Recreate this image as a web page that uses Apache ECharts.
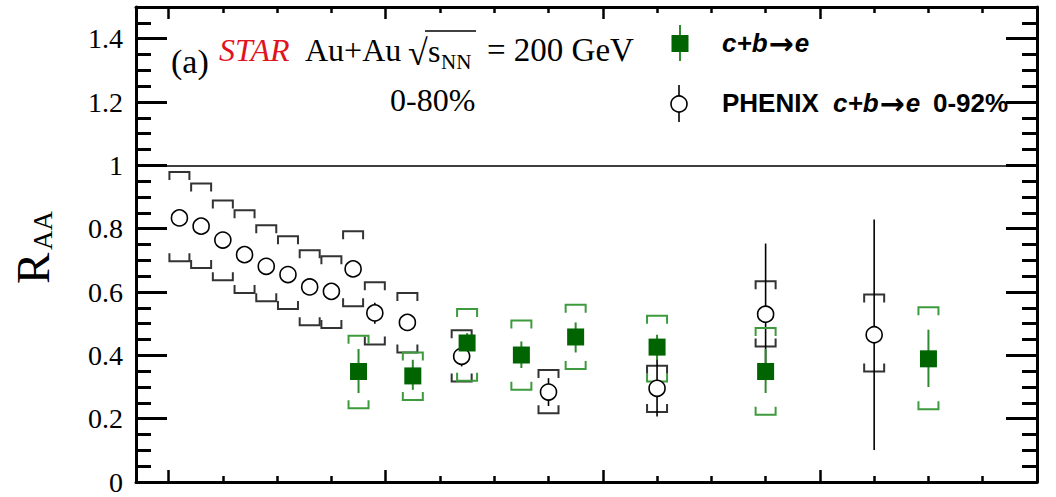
<!DOCTYPE html>
<html><head><meta charset="utf-8">
<script src="https://cdn.jsdelivr.net/npm/echarts@6/dist/echarts.min.js"></script>
<style>html,body{margin:0;padding:0;background:#fff}#c{width:1056px;height:497px}</style>
</head><body><div id="c"></div>
<script>
// ---- axes ----
const xMin = 1.7, xMax = 10, yMin = 0, yMax = 1.5;
const xMajorTicks = [2, 4, 6, 8];
const xMinorTicks = [2.5, 3, 3.5, 4.5, 5, 5.5, 6.5, 7, 7.5, 8.5, 9, 9.5];
const yMajorTicks = [0, 0.2, 0.4, 0.6, 0.8, 1, 1.2, 1.4];
const yTickLabels = ['0', '0.2', '0.4', '0.6', '0.8', '1', '1.2', '1.4'];
const yMinorTicks = [0.05, 0.1, 0.15, 0.25, 0.3, 0.35, 0.45, 0.5, 0.55, 0.65, 0.7, 0.75, 0.85, 0.9, 0.95, 1.05, 1.1, 1.15, 1.25, 1.3, 1.35, 1.45];
const refLine = 1;

// ---- PHENIX c+b->e 0-92% ----
const phenixX      = [2.1, 2.3, 2.5, 2.7, 2.9, 3.1, 3.3, 3.5, 3.7, 3.9, 4.2, 4.7, 5.5, 6.5, 7.5, 8.5];
const phenixY      = [0.834, 0.808, 0.764, 0.718, 0.681, 0.655, 0.616, 0.602, 0.673, 0.534, 0.504, 0.397, 0.284, 0.296, 0.530, 0.465];
const phenixStatLo = [0.824, 0.798, 0.754, 0.708, 0.671, 0.645, 0.606, 0.592, 0.663, 0.500, 0.494, 0.365, 0.240, 0.207, 0.350, 0.101];
const phenixStatHi = [0.844, 0.818, 0.774, 0.728, 0.691, 0.665, 0.626, 0.612, 0.683, 0.566, 0.514, 0.430, 0.328, 0.390, 0.753, 0.829];
const phenixSysLo  = [0.697, 0.676, 0.637, 0.597, 0.571, 0.546, 0.495, 0.486, 0.555, 0.434, 0.409, 0.317, 0.217, 0.221, 0.428, 0.349];
const phenixSysHi  = [0.979, 0.943, 0.889, 0.858, 0.811, 0.776, 0.732, 0.713, 0.792, 0.631, 0.597, 0.479, 0.354, 0.367, 0.634, 0.592];

// ---- STAR c+b->e 0-80% ----
const starX      = [3.75, 4.25, 4.75, 5.25, 5.75, 6.5, 7.5, 9];
const starY      = [0.349, 0.335, 0.439, 0.401, 0.458, 0.426, 0.349, 0.389];
const starStatLo = [0.281, 0.291, 0.405, 0.360, 0.409, 0.385, 0.281, 0.300];
const starStatHi = [0.420, 0.386, 0.470, 0.444, 0.504, 0.465, 0.420, 0.481];
const starSysLo  = [0.233, 0.259, 0.320, 0.291, 0.357, 0.317, 0.212, 0.230];
const starSysHi  = [0.462, 0.409, 0.546, 0.510, 0.560, 0.525, 0.486, 0.552];

const GREEN_FILL = '#006400', GREEN_LINE = '#2f8a2f', GREEN_BRACKET = '#3d9a3d';
const BLACK = '#000', BRACKET_BLACK = '#333';
const SERIF = '"Liberation Serif", "Times New Roman", serif';
const SANS = '"Liberation Sans", Arial, sans-serif';

function zip3(x, a, b) { return x.map((v, i) => [v, a[i], b[i]]); }
function zip2(x, a) { return x.map((v, i) => [v, a[i]]); }

function statItem(color, lw) {
  return function (params, api) {
    const x = api.value(0), lo = api.value(1), hi = api.value(2);
    const a = api.coord([x, lo]), b = api.coord([x, hi]);
    return { type: 'line', shape: { x1: a[0], y1: a[1], x2: b[0], y2: b[1] },
             style: { stroke: color, lineWidth: lw } };
  };
}
function sysItem(color) {
  return function (params, api) {
    const x = api.value(0), lo = api.value(1), hi = api.value(2);
    const a = api.coord([x, lo]), b = api.coord([x, hi]);
    const w = 10, t = 8;
    return { type: 'group', children: [
      { type: 'polyline', shape: { points: [[a[0] - w, a[1] - t], [a[0] - w, a[1]], [a[0] + w, a[1]], [a[0] + w, a[1] - t]] },
        style: { stroke: color, fill: null, lineWidth: 2 } },
      { type: 'polyline', shape: { points: [[b[0] - w, b[1] + t], [b[0] - w, b[1]], [b[0] + w, b[1]], [b[0] + w, b[1] + t]] },
        style: { stroke: color, fill: null, lineWidth: 2 } }
    ] };
  };
}

const gridRect = { left: 136, right: 19, top: 7, bottom: 15 };
function xAx(grid, pos, ticks, len, showLine) {
  return { type: 'value', gridIndex: grid, position: pos, min: xMin, max: xMax,
    axisLine: { show: showLine, onZero: false, lineStyle: { color: BLACK, width: 3 } },
    axisTick: { show: true, inside: true, length: len, customValues: ticks, lineStyle: { color: BLACK, width: 2.5 } },
    axisLabel: { show: false }, splitLine: { show: false } };
}
function yAx(grid, pos, ticks, len, showLine, labels) {
  return { type: 'value', gridIndex: grid, position: pos, min: yMin, max: yMax,
    axisLine: { show: showLine, onZero: false, lineStyle: { color: BLACK, width: 3 } },
    axisTick: { show: true, inside: true, length: len, customValues: ticks, lineStyle: { color: BLACK, width: 3 } },
    axisLabel: labels ? { show: true, customValues: yMajorTicks, margin: 13, color: BLACK,
      fontFamily: SERIF, fontSize: 28,
      formatter: v => { const i = yMajorTicks.findIndex(t => Math.abs(t - v) < 1e-9); return i >= 0 ? yTickLabels[i] : ''; } }
      : { show: false },
    splitLine: { show: false } };
}

function txt(x, y, text, font, fill) {
  return { type: 'text', x: x, y: y, silent: true,
    style: { text: text, font: font, fill: fill || BLACK, verticalAlign: 'middle', textVerticalAlign: 'middle' } };
}
const arrowRich = {
  i: { fontFamily: SANS, fontStyle: 'italic', fontWeight: 'bold', fontSize: 26, color: BLACK },
  a: { fontFamily: '"DejaVu Sans", sans-serif', fontWeight: 'bold', fontSize: 30, color: BLACK, padding: [0, 1, 0, 1] }
};
function arrowTxt(x, y) {
  return { type: 'text', x: x, y: y, silent: true,
    style: { text: '{i|c+b}{a|→}{i|e}', rich: arrowRich, fill: BLACK, verticalAlign: 'middle', textVerticalAlign: 'middle' } };
}

const chart = echarts.init(document.getElementById('c'), null, { renderer: 'svg', width: 1056, height: 497 });
chart.setOption({
  animation: false,
  backgroundColor: '#fff',
  grid: [Object.assign({}, gridRect), Object.assign({}, gridRect)],
  xAxis: [
    xAx(0, 'bottom', xMajorTicks, 12, true),
    xAx(0, 'top', xMajorTicks, 12, true),
    xAx(1, 'bottom', xMinorTicks, 6, false),
    xAx(1, 'top', xMinorTicks, 6, false)
  ],
  yAxis: [
    yAx(0, 'left', yMajorTicks, 31, true, true),
    yAx(0, 'right', yMajorTicks, 31, true, false),
    yAx(1, 'left', yMinorTicks, 15, false, false),
    yAx(1, 'right', yMinorTicks, 15, false, false)
  ],
  series: [
    { type: 'line', xAxisIndex: 0, yAxisIndex: 0, data: [], silent: true,
      markLine: { silent: true, symbol: 'none', label: { show: false },
        lineStyle: { color: BLACK, width: 1.5, type: 'solid' }, data: [{ yAxis: refLine }] } },
    { type: 'custom', name: 'PHENIX sys', xAxisIndex: 0, yAxisIndex: 0, renderItem: sysItem(BRACKET_BLACK),
      encode: { x: 0, y: [1, 2] }, data: zip3(phenixX, phenixSysLo, phenixSysHi), silent: true },
    { type: 'custom', name: 'PHENIX stat', xAxisIndex: 0, yAxisIndex: 0, renderItem: statItem(BLACK, 1.6),
      encode: { x: 0, y: [1, 2] }, data: zip3(phenixX, phenixStatLo, phenixStatHi), silent: true },
    { type: 'scatter', name: 'PHENIX', xAxisIndex: 0, yAxisIndex: 0, symbol: 'circle', symbolSize: 16,
      itemStyle: { color: '#fff', borderColor: BLACK, borderWidth: 1.6, opacity: 1 },
      data: zip2(phenixX, phenixY), silent: true },
    { type: 'custom', name: 'STAR sys', xAxisIndex: 0, yAxisIndex: 0, renderItem: sysItem(GREEN_BRACKET),
      encode: { x: 0, y: [1, 2] }, data: zip3(starX, starSysLo, starSysHi), silent: true },
    { type: 'custom', name: 'STAR stat', xAxisIndex: 0, yAxisIndex: 0, renderItem: statItem(GREEN_LINE, 2),
      encode: { x: 0, y: [1, 2] }, data: zip3(starX, starStatLo, starStatHi), silent: true },
    { type: 'scatter', name: 'c+b→e', xAxisIndex: 0, yAxisIndex: 0, symbol: 'rect', symbolSize: 17,
      itemStyle: { color: GREEN_FILL, opacity: 1 }, data: zip2(starX, starY), silent: true }
  ],
  graphic: [
    // y-axis title R_AA (rotated)
    { type: 'group', x: 33, y: 284, rotation: Math.PI / 2, silent: true, children: [
      { type: 'text', x: 0, y: 0, style: { text: 'R', font: '47px ' + SERIF, fill: BLACK, verticalAlign: 'middle', textVerticalAlign: 'middle' } },
      { type: 'text', x: 34, y: 10, style: { text: 'AA', font: '27px ' + SERIF, fill: BLACK, verticalAlign: 'middle', textVerticalAlign: 'middle' } }
    ] },
    // header
    txt(171, 61, '(a)', '34px ' + SERIF),
    txt(219, 50, 'STAR', 'italic 32px ' + SERIF, '#e0141e'),
    txt(305, 50, 'Au+Au', '32px ' + SERIF),
    txt(408, 53, '√', '36px ' + SERIF),
    { type: 'line', silent: true, shape: { x1: 425, y1: 31, x2: 476, y2: 31 }, style: { stroke: BLACK, lineWidth: 1.5 } },
    txt(428, 51, 's', '32px ' + SERIF),
    txt(441, 62, 'NN', '21px ' + SERIF),
    txt(487, 50, '= 200 GeV', '33px ' + SERIF),
    txt(390, 100, '0-80%', '32px ' + SERIF),
    // legend entry 1
    { type: 'line', silent: true, shape: { x1: 680, y1: 25, x2: 680, y2: 61 }, style: { stroke: GREEN_LINE, lineWidth: 2 } },
    { type: 'rect', silent: true, shape: { x: 671.5, y: 35, width: 17, height: 17 }, style: { fill: GREEN_FILL } },
    arrowTxt(722, 43),
    // legend entry 2
    { type: 'line', silent: true, shape: { x1: 679, y1: 85, x2: 679, y2: 122 }, style: { stroke: BLACK, lineWidth: 1.6 } },
    { type: 'circle', silent: true, shape: { cx: 679, cy: 104, r: 8 }, style: { fill: '#fff', stroke: BLACK, lineWidth: 1.6 } },
    txt(722, 103, 'PHENIX', 'bold 26px ' + SANS),
    arrowTxt(833, 103),
    txt(933, 103, '0-92%', 'bold 26px ' + SANS)
  ]
});
</script>
</body></html>
